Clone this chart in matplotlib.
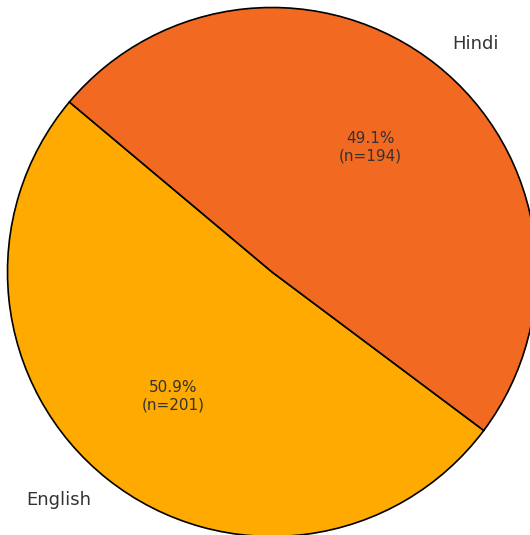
import matplotlib
matplotlib.use("Agg")
import matplotlib.pyplot as plt

categories = ["English", "Hindi"]
counts = [201, 194]
colors = ["#FFAA00", "#F26A21"]

W, H = 530, 535
fig = plt.figure(figsize=(W / 100, H / 100), dpi=100)
ax = fig.add_axes([0, 0, 1, 1])

total = sum(counts)

def fmt(p):
    n = int(round(p * total / 100.0))
    return f"{p:.1f}%\n(n={n})"

wedges, texts, autotexts = ax.pie(
    counts, labels=categories, colors=colors, startangle=140,
    autopct=fmt, pctdistance=0.6, labeldistance=1.1,
    wedgeprops=dict(edgecolor="black", linewidth=1.2),
    textprops=dict(color="#333333"),
)
for t in texts:
    t.set_fontsize(13)
for t in autotexts:
    t.set_fontsize(11)

cx, cy, r = 272, 272, 264.5
ax.set_xlim(-cx / r, (W - cx) / r)
ax.set_ylim(-(H - cy) / r, cy / r)
ax.set_aspect("auto")
ax.axis("off")
fig.savefig("out.png", dpi=100)
